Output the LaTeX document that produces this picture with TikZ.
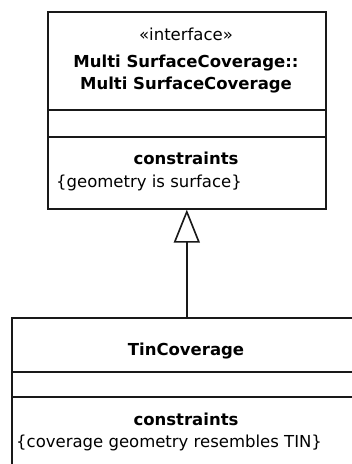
\documentclass[tikz,border=0pt]{standalone}
\usepackage{fontspec}
\setmainfont{DejaVu Sans}
\usetikzlibrary{arrows.meta}
\begin{document}
\begin{tikzpicture}[x=1pt,y=-1pt,
  box/.style={draw=black!90, line width=1.6pt, inner sep=0pt, anchor=north west},
  divider/.style={draw=black!90, line width=1.6pt},
  txt/.style={font=\fontsize{16.5}{20}\selectfont, text=black, anchor=base, inner sep=0pt},
  ltxt/.style={txt, anchor=base west},
  gen/.style={draw=black!90, line width=1.8pt, -{Triangle[open, length=33pt, width=26pt, line width=1.6pt]}}]
\clip (0,0) rectangle (352,464);
% top class
\node[box, minimum width=278pt, minimum height=197pt] (top) at (47,11) {};
\draw[divider] (top.west |- 0,110) -- (top.east |- 0,110);
\draw[divider] (top.west |- 0,137) -- (top.east |- 0,137);
\node[txt] (st) at (186,40) {«interface»};
\node[txt, font=\fontsize{16.5}{20}\selectfont\bfseries] (n1) at (186,67) {Multi SurfaceCoverage::};
\node[txt, font=\fontsize{16.5}{20}\selectfont\bfseries] (n2) at (186,89) {Multi SurfaceCoverage};
\node[txt, font=\fontsize{16.5}{20}\selectfont\bfseries] (c1) at (186,164) {constraints};
\node[ltxt] (g1) at (56,187) {\{geometry is surface\}};
% bottom class
\node[box, minimum width=350pt, minimum height=170pt] (bot) at (11,317) {};
\draw[divider] (bot.west |- 0,372) -- (bot.east |- 0,372);
\draw[divider] (bot.west |- 0,397) -- (bot.east |- 0,397);
\node[txt, font=\fontsize{16.5}{20}\selectfont\bfseries] (n3) at (186,355) {TinCoverage};
\node[txt, font=\fontsize{16.5}{20}\selectfont\bfseries] (c2) at (186,425) {constraints};
\node[ltxt] (g2) at (16,447) {\{coverage geometry resembles TIN\}};
% generalization
\draw[gen] (bot.north) -- (top.south);
\end{tikzpicture}
\end{document}
